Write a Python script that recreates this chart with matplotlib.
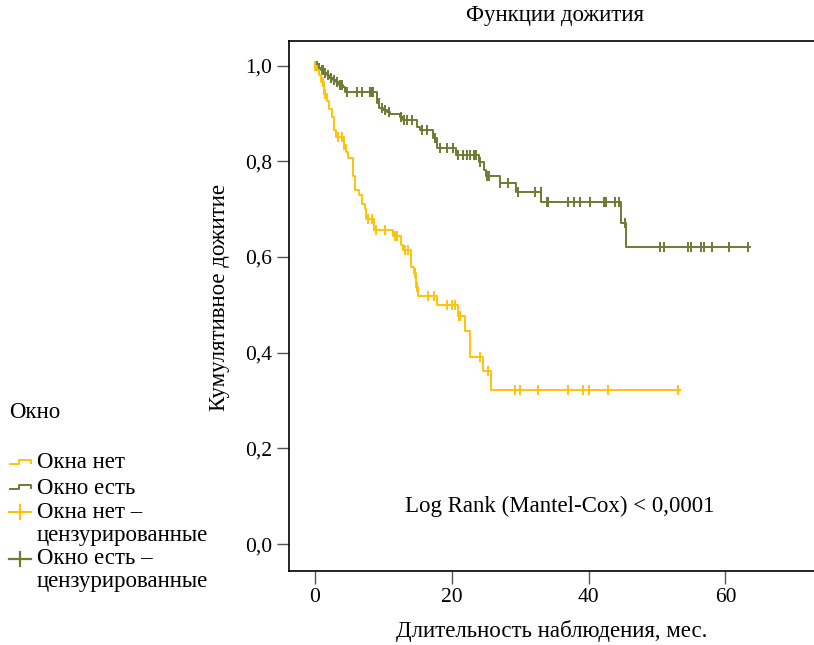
import numpy as np
import matplotlib
matplotlib.use('Agg')
import matplotlib.pyplot as plt
from matplotlib.lines import Line2D

plt.rcParams['font.family'] = ['Liberation Serif', 'DejaVu Serif']

# survival steps, group "Окна нет"
no_t = [0.3, 0.6, 0.9, 1.3, 1.8, 2.1, 2.5, 2.7, 3.1, 4.2, 4.5, 4.8, 5.6, 5.9, 6.5,
        6.9, 7.3, 7.5, 8.6, 11.4, 12.5, 12.8, 14.1, 14.4, 14.8, 15.05, 17.8, 20.9,
        21.9, 22.6, 22.7, 24.5, 25.7]
no_s = [0.99, 0.98, 0.965, 0.94, 0.925, 0.91, 0.893, 0.865, 0.85, 0.835, 0.82, 0.807,
        0.77, 0.74, 0.73, 0.71, 0.70, 0.68, 0.657, 0.643, 0.625, 0.614, 0.58, 0.567,
        0.538, 0.519, 0.50, 0.477, 0.446, 0.42, 0.392, 0.361, 0.322]
no_cens = [0.05, 1.1, 1.5, 3.4, 4.0, 4.3, 7.7, 8.4, 8.9, 10.3, 11.7, 12.0, 13.1, 13.6,
           14.6, 14.9, 16.5, 17.4, 19.25, 20.0, 20.5, 21.0, 21.2, 24.1, 25.3, 29.2,
           29.9, 32.6, 37.0, 39.2, 40.1, 42.8, 53.0]
no_end = 53.4

# group "Окно есть"
yes_t = [0.5, 0.9, 1.3, 1.7, 2.1, 2.6, 3.0, 3.5, 4.1, 4.4, 9.1, 9.4, 9.9, 10.5, 11.0,
         12.4, 12.8, 14.9, 15.3, 17.3, 17.8, 20.6, 24.0, 24.7, 25.0, 27.0, 29.4, 33.1,
         44.7, 45.4]
yes_s = [0.995, 0.99, 0.985, 0.98, 0.975, 0.97, 0.965, 0.96, 0.955, 0.944, 0.922, 0.912,
         0.907, 0.902, 0.898, 0.893, 0.886, 0.872, 0.866, 0.849, 0.827, 0.814, 0.799,
         0.782, 0.769, 0.755, 0.735, 0.716, 0.672, 0.620]
yes_cens = [0.1, 0.3, 0.6, 1.0, 1.1, 1.5, 1.9, 2.3, 2.4, 2.8, 3.2, 3.7, 4.0, 4.7, 6.1,
            6.9, 8.0, 8.3, 8.5, 9.3, 9.8, 10.3, 10.8, 12.6, 13.0, 13.5, 14.2, 15.6, 16.4,
            17.5, 18.3, 19.3, 20.2, 20.9, 21.7, 22.2, 22.7, 23.2, 23.5, 24.1, 25.1, 25.5,
            27.1, 28.2, 29.7, 32.2, 33.0, 33.9, 34.1, 37.0, 37.9, 38.8, 40.2, 42.3, 42.5,
            43.9, 44.5, 45.3, 50.4, 51.0, 54.6, 54.9, 56.4, 56.8, 58.1, 60.5, 63.3]
yes_end = 63.6

c_no = '#FFC20A'
c_yes = '#6E7B32'
fs = 16.5

W, H = 814, 645
fig = plt.figure(figsize=(W / 100, H / 100), dpi=100)
ax = fig.add_axes([288.7 / W, 1 - 571 / H, 1 - 288.7 / W, (571 - 40.7) / H])


def draw_group(times, surv, cens, end, color):
    xs = np.array([0.0] + times + [end])
    ys = np.array([1.0] + surv + [surv[-1]])
    ax.plot(xs, ys, drawstyle='steps-post', color=color, lw=1.4)
    idx = np.searchsorted(xs, cens, side='right') - 1
    ax.plot(cens, ys[idx], ls='none', marker='|', ms=7, mew=1.4, color=color)


draw_group(yes_t, yes_s, yes_cens, yes_end, c_yes)
draw_group(no_t, no_s, no_cens, no_end, c_no)

ax.set_xlim(-3.85, 72.95)
ax.set_ylim(-0.056, 1.052)
ax.set_xticks([0, 20, 40, 60])
ax.set_yticks([0, 0.2, 0.4, 0.6, 0.8, 1.0])
ax.set_yticklabels(['0,0', '0,2', '0,4', '0,6', '0,8', '1,0'])
ax.tick_params(length=9, width=1, color='#555555', labelsize=15.5, pad=3)
ax.spines['right'].set_visible(False)
for s in ['left', 'top', 'bottom']:
    ax.spines[s].set_linewidth(1.2)

ax.text(35.8, 0.078, 'Log Rank (Mantel-Cox) < 0,0001', ha='center', va='center', fontsize=fs)

fig.text(555 / W, 1 - 16 / H, 'Функции дожития', ha='center', va='center', fontsize=fs)
fig.text(552 / W, 1 - 631 / H, 'Длительность наблюдения, мес.', ha='center', va='center', fontsize=fs)
fig.text(220 / W, 1 - 297 / H, 'Кумулятивное дожитие', ha='center', va='center',
         rotation=90, fontsize=fs)

# legend, drawn in figure pixels
def fx(x):
    return x / W


def fy(y):
    return 1 - y / H


fig.text(fx(9), fy(412), 'Окно', ha='left', va='center', fontsize=fs)
rows = [(463, 'Окна нет'), (488, 'Окно есть'), (512, 'Окна нет –'), (535, 'цензурированные'),
        (559, 'Окно есть –'), (582, 'цензурированные')]
for y, label in rows:
    fig.text(fx(37), fy(y), label, ha='left', va='center', fontsize=fs)

for y, col in [(463, c_no), (488, c_yes)]:
    px = [10, 19, 19, 31, 31]
    py = [y + 1, y + 1, y - 3, y - 3, y]
    fig.add_artist(Line2D([fx(v) for v in px], [fy(v) for v in py], color=col, lw=1.4))
for y, col in [(512, c_no), (559, c_yes)]:
    fig.add_artist(Line2D([fx(9), fx(31)], [fy(y), fy(y)], color=col, lw=1.6))
    fig.add_artist(Line2D([fx(20), fx(20)], [fy(y - 7), fy(y + 7)], color=col, lw=1.6))

fig.savefig('out.png', dpi=100)
